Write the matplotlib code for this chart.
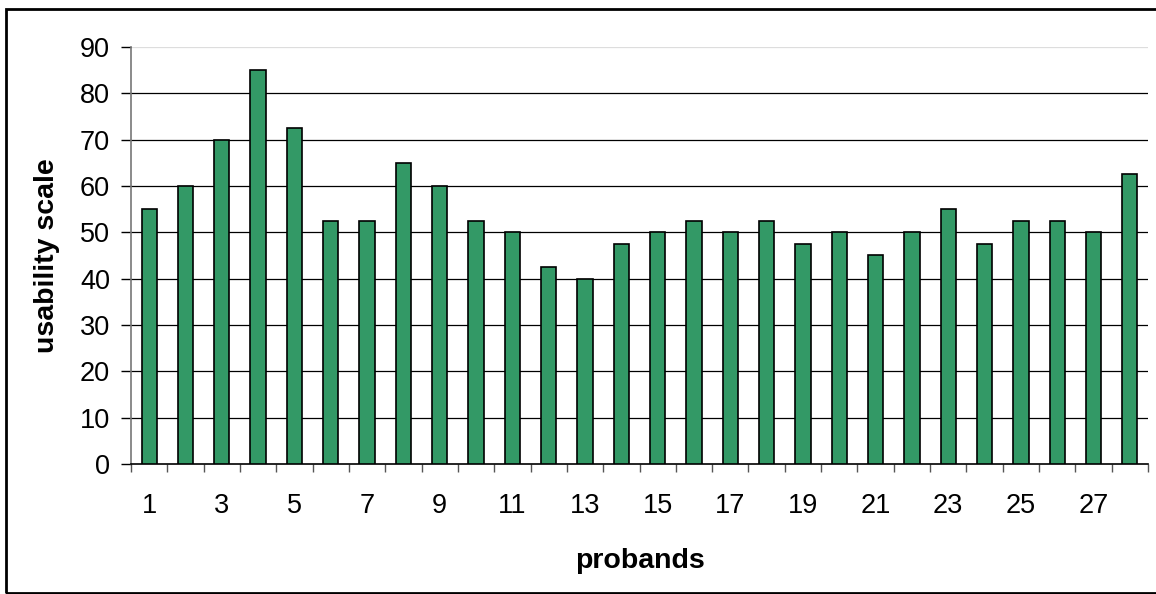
import matplotlib
matplotlib.use("Agg")
import matplotlib.pyplot as plt
from matplotlib.patches import Rectangle

# Usability score per proband
probands = list(range(1, 29))
scores = [55, 60, 70, 85, 72.5, 52.5, 52.5, 65, 60, 52.5, 50, 42.5, 40, 47.5,
          50, 52.5, 50, 52.5, 47.5, 50, 45, 50, 55, 47.5, 52.5, 52.5, 50, 62.5]
y_ticks = list(range(0, 100, 10))

plt.rcParams["font.family"] = ["Liberation Sans", "DejaVu Sans"]
FS = 19.5
FS_LABEL = 20.5

W, H = 1156, 594
fig = plt.figure(figsize=(W / 100, H / 100), dpi=100)
ax = fig.add_axes([131 / W, 1 - 464 / H, (1148 - 131) / W, (464 - 47) / H])

x = list(range(len(probands)))
ax.bar(x, scores, width=0.42, color="#339966", edgecolor="black",
       linewidth=1.2, zorder=3)

ax.set_xlim(-0.5, len(probands) - 0.5)
ax.set_ylim(0, 90)
ax.set_yticks(y_ticks)
ax.set_yticklabels([str(v) for v in y_ticks], fontsize=FS)
for v in y_ticks[1:-1]:
    ax.axhline(v, color="black", linewidth=0.9, zorder=1)
ax.axhline(90, color="#dddddd", linewidth=0.9, zorder=1)

# category labels every other bar, ticks on the category boundaries
ax.set_xticks(x[::2])
ax.set_xticklabels([str(p) for p in probands[::2]], fontsize=FS)
ax.tick_params(axis="x", length=0, pad=21)
ax.set_xticks([i - 0.5 for i in range(len(probands) + 1)], minor=True)
ax.tick_params(axis="x", which="minor", length=6, width=1, color="#555555")
ax.tick_params(axis="y", length=7.2, width=1, color="black", pad=8)

for side in ["top", "right"]:
    ax.spines[side].set_visible(False)
ax.spines["left"].set_color("#777777")
ax.spines["bottom"].set_color("black")
ax.spines["left"].set_linewidth(1.2)
ax.spines["bottom"].set_linewidth(1.2)

ax.set_xlabel("probands", fontsize=FS_LABEL, fontweight="bold", labelpad=21)
ax.set_ylabel("usability scale", fontsize=FS_LABEL, fontweight="bold", labelpad=14)

# chart frame
fig.patches.append(Rectangle((6 / W, 1 / H), 1.2, 1 - 10 / H,
                             transform=fig.transFigure, fill=False,
                             edgecolor="black", linewidth=2))

fig.savefig("out.png", dpi=100)
